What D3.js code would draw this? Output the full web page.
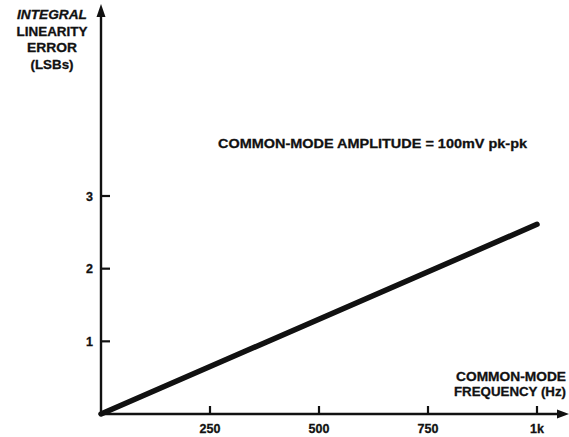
<!DOCTYPE html>
<html><head><meta charset="utf-8">
<script src="https://cdn.jsdelivr.net/npm/d3@7"></script>
<style>body{margin:0;background:#fff}svg{display:block}text{font-family:"Liberation Sans",Arial,sans-serif;font-weight:bold;fill:#111;stroke:#111;stroke-width:0.3}</style>
</head><body>
<script>
const freqs = [0, 1000];
const ileValues = [0, 2.61];
const xTickValues = [250, 500, 750, 1000];
const xTickLabels = ["250", "500", "750", "1k"];
const yTickValues = [1, 2, 3];
const yTickLabels = ["1", "2", "3"];
const yTitle = ["INTEGRAL", "LINEARITY", "ERROR", "(LSBs)"];
const xTitle = ["COMMON-MODE", "FREQUENCY (Hz)"];
const note = "COMMON-MODE AMPLITUDE = 100mV pk-pk";

const W = 569, H = 437;
const svg = d3.select("body").append("svg").attr("width", W).attr("height", H);
const x = d3.scaleLinear().domain([0, 1000]).range([101, 537]);
const y = d3.scaleLinear().domain([0, 3]).range([414, 196]);

svg.append("line").attr("x1", x(0)).attr("x2", 562).attr("y1", y(0)).attr("y2", y(0)).attr("stroke", "#111").attr("stroke-width", 2.4);
svg.append("path").attr("d", `M569,${y(0)} L557,${y(0)-4.5} L557,${y(0)+4.5} Z`).attr("fill", "#111");
svg.append("line").attr("x1", x(0)).attr("x2", x(0)).attr("y1", y(0)).attr("y2", 14).attr("stroke", "#111").attr("stroke-width", 2.4);
svg.append("path").attr("d", `M${x(0)},4 L${x(0)-4.5},17 L${x(0)+4.5},17 Z`).attr("fill", "#111");

xTickValues.forEach((v, i) => {
  svg.append("line").attr("x1", x(v)).attr("x2", x(v)).attr("y1", y(0)).attr("y2", y(0) - 8).attr("stroke", "#111").attr("stroke-width", 2.2);
  svg.append("text").attr("x", x(v)).attr("y", 433).attr("text-anchor", "middle").attr("font-size", 12.5).text(xTickLabels[i]);
});
yTickValues.forEach((v, i) => {
  svg.append("line").attr("x1", x(0)).attr("x2", x(0) + 9).attr("y1", y(v)).attr("y2", y(v)).attr("stroke", "#111").attr("stroke-width", 2.2);
  svg.append("text").attr("x", 93).attr("y", y(v) + 4.5).attr("text-anchor", "end").attr("font-size", 12.5).text(yTickLabels[i]);
});

const line = d3.line().x((d, i) => x(freqs[i])).y(d => y(d));
svg.append("path").datum(ileValues).attr("d", line).attr("fill", "none").attr("stroke", "#111").attr("stroke-width", 5.5).attr("stroke-linecap", "round");

const yTitleW = [70, 71, 50, 43];
yTitle.forEach((t, i) => {
  svg.append("text").attr("x", 52 - yTitleW[i] / 2).attr("y", 19 + i * 16.5).attr("font-size", 13)
    .attr("textLength", yTitleW[i]).attr("lengthAdjust", "spacingAndGlyphs")
    .attr("font-style", i === 0 ? "italic" : "normal").text(t);
});
const xTitleW = [110, 112];
xTitle.forEach((t, i) => {
  svg.append("text").attr("x", 566 - xTitleW[i]).attr("y", 381 + i * 15).attr("font-size", 13)
    .attr("textLength", xTitleW[i]).attr("lengthAdjust", "spacingAndGlyphs").text(t);
});
svg.append("text").attr("x", 218).attr("y", 148).attr("font-size", 13).attr("textLength", 309).attr("lengthAdjust", "spacingAndGlyphs").text(note);
</script>
</body></html>
